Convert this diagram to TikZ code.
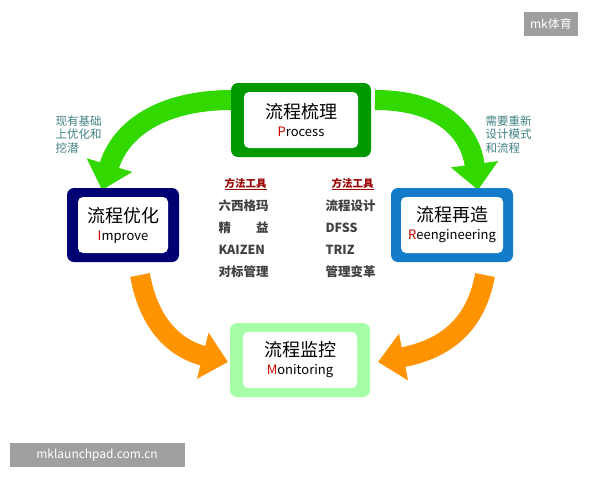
\documentclass[tikz,border=0pt]{standalone}
\usepackage{fontspec}
\setmainfont{Noto Sans CJK SC}
\usetikzlibrary{arrows.meta,positioning}
\newcommand{\subtxt}{\fontsize{13pt}{15pt}\selectfont}
\newcommand{\initial}[1]{{\color{red!80!black}#1}}
\tikzset{
  outerbox/.style={rounded corners=7pt,minimum width=#1,minimum height=74pt,line width=0pt},
  innerbox/.style={fill=white,rounded corners=5pt,minimum width=114pt,minimum height=56pt,align=center,font=\fontsize{18pt}{20pt}\selectfont,inner sep=1pt},
  bigarrow/.style={line width=20pt,-{Triangle[width=46pt,length=26pt]}},
  tool/.style={font=\fontsize{12.5pt}{14pt}\selectfont\bfseries,text=black!75,anchor=west},
  toolhead/.style={font=\fontsize{10.5pt}{12pt}\selectfont\bfseries,text=red!60!black,anchor=west},
  note/.style={font=\fontsize{11.5pt}{13.5pt}\selectfont,text=teal!50!gray,align=left,anchor=north west},
  wmark/.style={fill=gray!75,text=white,font=\fontsize{12pt}{14pt}\selectfont,inner sep=6pt}
}
\begin{document}
\begin{tikzpicture}[x=1pt,y=-1pt]
  \useasboundingbox (0,0) rectangle (600,480);
  % Arrows
  \draw[bigarrow,green!70!lime!85!black] (232,100) .. controls (160,100) and (120,130) .. (102,190);
  \draw[bigarrow,green!70!lime!85!black] (375,100) .. controls (440,100) and (470,130) .. (478,190);
  \draw[bigarrow,orange!85!yellow] (140,275) .. controls (150,330) and (180,350) .. (228,362);
  \draw[bigarrow,orange!85!yellow] (485,275) .. controls (475,330) and (440,350) .. (378,362);
  % Boxes
  \node[outerbox=140pt,fill=green!60!black] (proc) at (301,120) {};
  \node[innerbox] (proci) at (proc) {流程梳理\\[-2pt]{\subtxt\initial{P}rocess}};
  \node[outerbox=112pt,fill=blue!45!black] (impr) at (123,225) {};
  \node[innerbox,minimum width=90pt] (impri) at (impr) {流程优化\\[-2pt]{\subtxt\initial{I}mprove}};
  \node[outerbox=122pt,fill=cyan!60!blue] (reen) at (452,225) {};
  \node[innerbox,minimum width=102pt] (reeni) at (reen) {流程再造\\[-2pt]{\subtxt\initial{R}eengineering}};
  \node[outerbox=140pt,fill=green!35!white] (moni) at (300,360) {};
  \node[innerbox] (monii) at (moni) {流程监控\\[-2pt]{\subtxt\initial{M}onitoring}};
  % Tools
  \node[toolhead] (hl) at (221,184) {\underline{方法工具}};
  \foreach \t [count=\i] in {六西格玛,精\hspace{2em}益,KAIZEN,对标管理}
    \node[tool] (l\i) at (215,184+22*\i) {\t};
  \node[toolhead] (hr) at (328,184) {\underline{方法工具}};
  \foreach \t [count=\i] in {流程设计,DFSS,TRIZ,管理变革}
    \node[tool] (r\i) at (322,184+22*\i) {\t};
  % Notes
  \node[note] (nl) at (52,112) {现有基础\\上优化和\\挖潜};
  \node[note] (nr) at (482,112) {需要重新\\设计模式\\和流程};
  % Marks
  \node[wmark] (m1) at (551,24) {mk体育};
  \node[wmark,minimum width=175pt] (m2) at (97,455) {mklaunchpad.com.cn};
\end{tikzpicture}
\end{document}
